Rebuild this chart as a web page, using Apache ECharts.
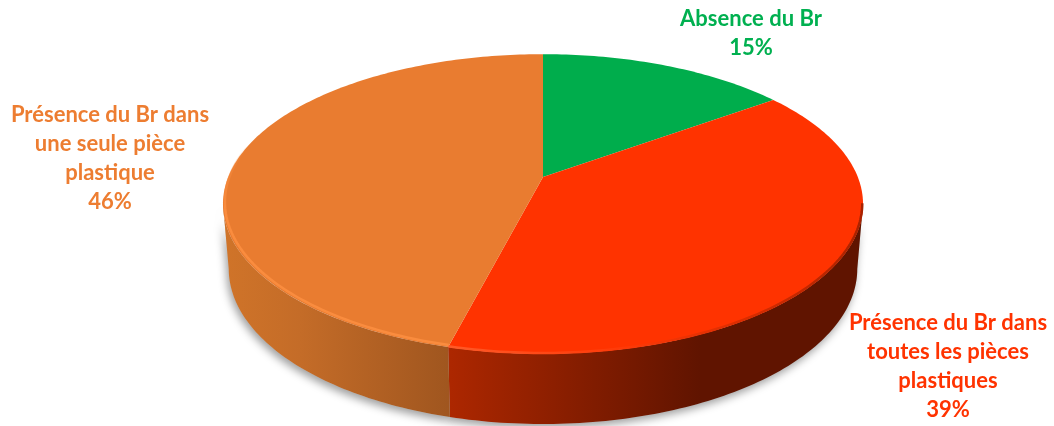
<!DOCTYPE html>
<html>
<head>
<meta charset="utf-8">
<style>html,body{margin:0;padding:0;background:#fff}#c{width:1054px;height:426px}</style>
<script src="https://cdn.jsdelivr.net/npm/echarts@6/dist/echarts.min.js"></script>
</head>
<body>
<div id="c"></div>
<script>
const categories = ['Absence du Br', 'Présence du Br dans\ntoutes les pièces\nplastiques', 'Présence du Br dans\nune seule pièce\nplastique'];
const values = [15, 39, 46];

const sliceColors = ['#00AD4C', '#FF3300', '#E97C30'];
const labelColors = ['#00B050', '#FF3300', '#ED7D31'];
const labelCenters = [[751, 4], [948, 308], [110, 100]];
const wallStops = [
  null,
  [[448, '#AD2700'], [700, '#601400'], [870, '#601400']],
  [[222, '#D07429'], [300, '#C46C28'], [448, '#A0561F']]
];
const rimInsets = [0, 0.8, 2];

// Projection of the pie's circular plane (perspective view)
const CX = 543, P_D = 314.8, P_A = 113.1, P_B = 177, P_C = -0.18;
const WALL_SX = 0.982, WALL_SY = 1.036, WALL_TY = 57.5;
const FRONT_START = 100.4, FRONT_END = 259.6, RIM_END = 285;

function topPoint(deg) {
  const r = deg * Math.PI / 180, u = Math.sin(r), v = -Math.cos(r), d = 1 + P_C * v;
  return [CX + P_D * u / d, (P_A * v + P_B) / d];
}
function basePoint(deg) {
  const p = topPoint(deg);
  return [CX + (p[0] - CX) * WALL_SX, p[1] * WALL_SY + WALL_TY];
}
function arc(fn, a, b) {
  const pts = [], n = Math.max(2, Math.ceil(Math.abs(b - a)));
  for (let i = 0; i <= n; i++) pts.push(fn(a + (b - a) * i / n));
  return pts;
}
function hGrad(stops) {
  const x0 = stops[0][0], x1 = stops[stops.length - 1][0];
  return new echarts.graphic.LinearGradient(x0, 0, x1, 0,
    stops.map(s => ({ offset: (s[0] - x0) / (x1 - x0), color: s[1] })), true);
}
function rimStroke(i) {
  if (i === 1) {
    return hGrad([[448, '#FF5A28'], [620, '#FF3A08'], [750, '#D82C00'], [865, '#A82200']]);
  }
  return new echarts.graphic.LinearGradient(0, 145, 0, 210, [
    { offset: 0, color: 'rgba(250,140,62,0)' },
    { offset: 1, color: 'rgba(250,140,62,1)' }
  ], true);
}

const total = values.reduce((a, b) => a + b, 0);

function renderItem(params, api) {
  const i = params.dataIndex, val = api.value(0);
  const before = values.slice(0, i).reduce((a, b) => a + b, 0);
  const a0 = before / total * 360, a1 = (before + val) / total * 360;
  const children = [];

  const wa = Math.max(a0, FRONT_START), wb = Math.min(a1, FRONT_END);
  if (wb > wa) {
    const poly = arc(topPoint, wa, wb).concat(arc(basePoint, wb, wa));
    children.push({
      type: 'polygon', z2: 1, shape: { points: poly },
      style: { fill: '#c4c4c4', shadowColor: 'rgba(0,0,0,0.38)', shadowBlur: 9, shadowOffsetX: -2, shadowOffsetY: 4 }
    });
    children.push({
      type: 'polygon', z2: 2, shape: { points: poly },
      style: { fill: hGrad(wallStops[i]) }
    });
  }
  children.push({
    type: 'polygon', z2: 3,
    shape: { points: [topPoint(a0)].concat(arc(topPoint, a0, a1)).concat([[CX, P_B]]) },
    style: { fill: sliceColors[i] }
  });
  const ra = Math.max(a0, FRONT_START), rb = Math.min(a1, RIM_END);
  if (rb > ra) {
    const inset = rimInsets[i];
    children.push({
      type: 'polyline', z2: 4,
      shape: { points: arc(d => { const p = topPoint(d); return [CX + (p[0] - CX) * (1 - inset * 0.003), p[1] - inset]; }, ra, rb) },
      style: { fill: null, stroke: rimStroke(i), lineWidth: 2.5 }
    });
  }
  children.push({
    type: 'text', z2: 5,
    style: {
      text: api.value(1) + '\n' + val + '%',
      x: labelCenters[i][0], y: labelCenters[i][1],
      align: 'center', verticalAlign: 'top',
      fill: labelColors[i], font: 'bold 22px Lato', lineHeight: 29
    }
  });
  return { type: 'group', children };
}

const chart = echarts.init(document.getElementById('c'), null, { renderer: 'canvas' });
chart.setOption({
  animation: false,
  backgroundColor: '#fff',
  series: [{
    type: 'custom',
    coordinateSystem: 'none',
    renderItem,
    data: values.map((v, i) => [v, categories[i]]),
    dimensions: ['value', { name: 'name', type: 'ordinal' }]
  }]
});
</script>
</body>
</html>
